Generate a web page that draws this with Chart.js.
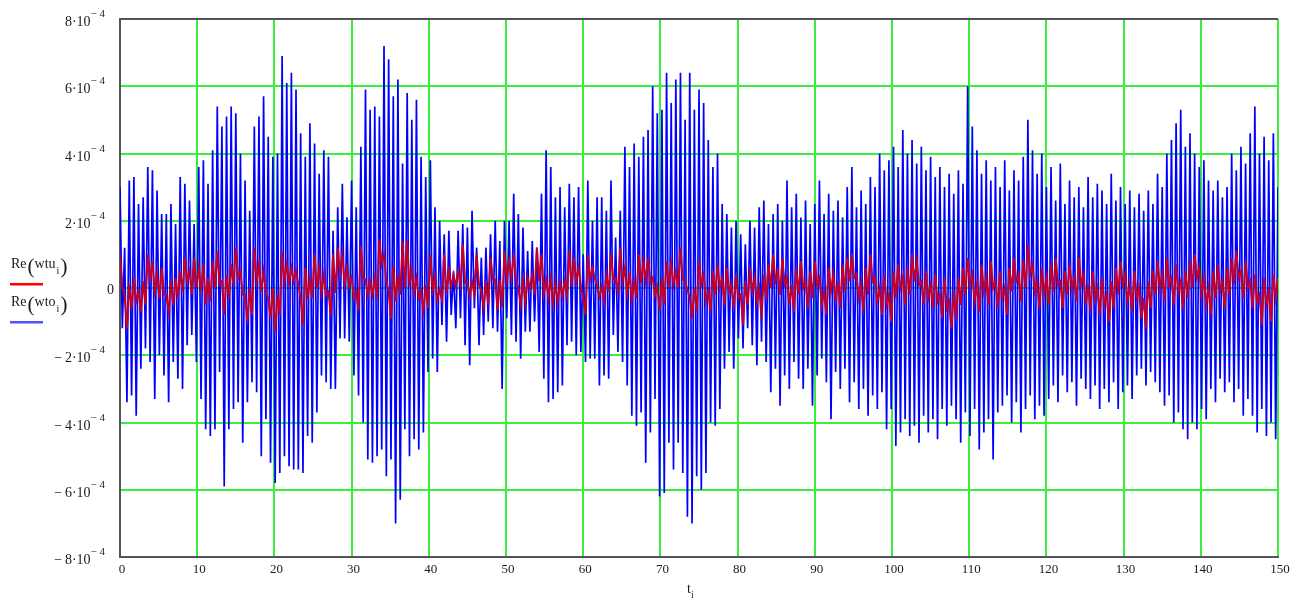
<!DOCTYPE html>
<html>
<head>
<meta charset="utf-8">
<title>Re(wtu), Re(wto)</title>
<script src="https://cdn.jsdelivr.net/npm/chart.js@4.4.1/dist/chart.umd.min.js"></script>
<style>
  html, body { margin: 0; padding: 0; background: #fff; }
  #wrap { width: 1301px; height: 598px; }
</style>
</head>
<body>
<div id="wrap"><canvas id="plot" width="1301" height="598"></canvas></div>
<script>
// sample step of t (t_i = i*dt, 0..150)
const dt = 0.3;

// Re(wto_i), in units of 1e-4 (one row = 5 top/bottom pairs)
const wtoE4 = [
  3.0,-1.2, 1.2,-3.4, 3.2,-3.2, 3.3,-3.8, 2.5,-2.4,
  2.7,-1.8, 3.6,-2.2, 3.5,-3.3, 2.9,-2.0, 2.2,-2.6,
  2.2,-3.4, 2.5,-2.2, 1.9,-2.7, 3.3,-3.0, 3.1,-1.7,
  2.6,-1.4, 1.9,-2.2, 3.6,-3.3, 3.8,-4.2, 3.1,-4.4,
  4.1,-4.2, 5.4,-2.5, 4.8,-5.9, 5.1,-4.2, 5.4,-3.6,
  5.2,-3.4, 4.0,-4.6, 3.2,-3.4, 2.3,-2.8, 4.8,-3.1,
  5.1,-5.0, 5.7,-3.9, 4.5,-5.2, 3.9,-5.8, 4.0,-5.5,
  6.9,-5.0, 6.1,-5.3, 6.4,-5.4, 5.9,-5.4, 4.6,-5.5,
  3.9,-4.4, 4.9,-4.6, 4.3,-3.7, 3.4,-2.6, 4.1,-2.8,
  3.9,-3.0, 1.7,-3.0, 2.4,-1.5, 3.1,-1.5, 2.1,-1.6,
  3.2,-2.6, 2.4,-3.2, 4.2,-4.0, 5.9,-5.1, 5.3,-5.2,
  5.4,-5.0, 5.1,-4.8, 7.2,-5.6, 6.8,-5.1, 5.7,-7.0,
  6.2,-6.3, 3.7,-4.2, 5.8,-5.0, 5.0,-4.5, 5.6,-4.8,
  3.9,-4.3, 3.3,-2.5, 3.8,-2.1, 2.4,-2.5, 2.0,-1.1,
  1.6,-1.6, 1.7,-0.8, 0.5,-1.2, 1.7,-0.9, 1.9,-1.7,
  1.8,-2.3, 2.3,-0.6, 1.2,-1.7, 0.9,-1.4, 1.2,-1.0,
  1.6,-1.2, 2.0,-1.3, 1.4,-3.0, 2.0,-0.9, 2.0,-1.4,
  2.8,-1.6, 2.2,-2.1, 1.8,-1.3, 1.1,-1.3, 1.4,-1.0,
  1.2,-1.9, 2.8,-2.7, 4.1,-3.4, 3.6,-3.3, 2.7,-3.1,
  3.0,-2.9, 2.4,-1.7, 3.1,-1.6, 2.7,-2.0, 3.0,-1.9,
  1.0,-2.2, 3.2,-2.1, 2.0,-2.1, 2.7,-2.9, 2.7,-2.6,
  2.3,-2.7, 3.2,-1.4, 1.5,-1.9, 2.3,-2.2, 4.2,-2.9,
  3.6,-3.8, 4.3,-4.1, 3.9,-3.7, 4.5,-5.2, 4.7,-4.3,
  6.0,-3.3, 5.2,-6.2, 5.3,-6.1, 6.4,-4.6, 5.5,-5.4,
  6.2,-4.6, 6.4,-5.5, 5.0,-6.8, 6.4,-7.0, 5.3,-5.6,
  5.9,-6.0, 5.5,-5.5, 4.4,-4.0, 3.6,-4.1, 4.0,-3.6,
  2.5,-2.4, 2.2,-1.9, 1.8,-2.4, 2.0,-1.5, 1.6,-1.8,
  1.3,-1.2, 2.0,-1.7, 1.8,-2.3, 2.4,-1.6, 2.6,-2.2,
  1.9,-3.1, 2.2,-2.4, 2.5,-3.5, 2.0,-2.6, 3.2,-3.0,
  2.4,-2.2, 2.8,-2.7, 2.1,-3.0, 2.6,-2.4, 1.9,-3.5,
  2.5,-2.6, 3.2,-2.1, 2.2,-2.8, 2.8,-3.9, 2.3,-2.5,
  2.6,-3.0, 2.1,-2.4, 3.0,-3.4, 3.6,-2.8, 2.4,-3.6,
  2.9,-3.0, 2.5,-3.8, 3.3,-3.2, 3.0,-3.6, 4.0,-3.1,
  3.5,-4.2, 3.8,-3.6, 4.2,-4.7, 3.6,-4.3, 4.7,-3.9,
  4.0,-4.4, 4.4,-4.1, 3.7,-4.6, 4.2,-3.8, 3.5,-4.3,
  3.9,-3.9, 3.3,-4.5, 3.6,-3.6, 3.0,-4.1, 3.4,-3.5,
  2.8,-3.9, 3.5,-4.6, 3.1,-3.7, 6.0,-4.4, 4.8,-3.6,
  4.1,-4.8, 3.4,-4.3, 3.8,-3.9, 3.2,-5.1, 3.6,-3.7,
  3.0,-3.5, 3.8,-3.2, 2.9,-4.0, 3.5,-3.4, 3.2,-4.3,
  3.9,-3.6, 5.0,-3.2, 4.1,-3.9, 3.4,-3.5, 4.0,-3.8,
  3.0,-3.3, 3.6,-2.9, 2.6,-3.4, 3.7,-2.6, 2.5,-3.1,
  3.2,-2.8, 2.7,-3.5, 3.0,-2.7, 2.4,-3.0, 3.3,-3.3,
  2.7,-2.9, 3.1,-3.6, 2.9,-3.0, 2.5,-3.4, 3.4,-2.8,
  2.6,-3.6, 3.0,-3.1, 2.5,-2.9, 2.9,-3.3, 2.4,-2.6,
  2.8,-2.4, 2.3,-2.9, 2.9,-2.5, 2.5,-2.8, 3.4,-3.1,
  3.0,-3.5, 4.0,-3.2, 4.4,-4.0, 4.9,-3.7, 5.3,-4.2,
  4.2,-4.5, 4.6,-4.0, 4.0,-4.2, 3.6,-3.6, 3.8,-3.9,
  3.2,-3.0, 2.9,-3.4, 3.2,-2.7, 2.7,-3.1, 3.0,-2.8,
  4.0,-3.4, 3.5,-3.0, 4.2,-3.8, 3.7,-3.3, 4.6,-3.8,
  5.4,-4.3, 4.0,-3.6, 4.5,-4.4, 3.8,-4.0, 4.6,-4.5,
  3.0
];

// Re(wtu_i), in units of 1e-4
const wtuE4 = [
  1.0,0.0, -0.2,-1.2, 0.1,-0.6, 0.3,-0.4, -0.1,-0.7,
  0.2,-0.5, 1.0,0.2, 0.8,-0.1, 0.4,-0.3, 0.6,-0.2,
  -0.2,-0.7, 0.2,-0.5, 0.3,-0.3, 0.5,-0.1, 0.9,0.2,
  0.5,-0.2, 0.9,0.0, 0.6,-0.1, 0.7,-0.5, 0.3,-0.4,
  0.8,0.0, 1.1,0.1, 0.2,-0.8, 0.4,-0.3, 0.7,0.1,
  1.2,0.3, 0.5,-0.2, -0.2,-1.0, 0.0,-0.8, 1.2,0.2,
  0.7,-0.1, 0.5,-0.15, -0.3,-0.9, 0.0,-1.3, -0.2,-0.8,
  1.1,0.2, 0.7,0.15, 0.6,0.2, 0.5,0.1, -0.3,-1.1,
  0.6,-0.35, 0.3,-0.3, 1.0,0.0, 0.6,-0.15, 0.4,-0.2,
  -0.1,-0.8, 1.0,-0.15, 1.2,0.45, 1.0,0.1, 0.6,0.05,
  0.3,-0.3, -0.1,-0.67, 1.24,0.3, 0.25,-0.25, 0.2,-0.2,
  0.3,-0.3, 1.45,0.7, 1.0,0.2, -0.1,-0.9, 0.65,-0.4,
  0.4,-0.2, 1.4,0.0, 1.4,0.05, 0.55,-0.15, 0.3,-0.3,
  -0.1,-0.67, 0.1,-0.6, 1.0,-0.05, 0.3,-0.35, -0.05,-0.35,
  1.0,-0.15, 0.5,0.05, 0.4,0.05, 0.5,0.1, 1.3,0.15,
  0.15,-0.25, 0.2,-0.2, 1.0,0.1, -0.1,-0.57, 0.2,-0.5,
  0.9,0.25, 0.25,-0.67, 0.25,-0.57, 1.1,0.25, 0.8,0.3,
  1.0,0.25, 0.0,-0.5, 0.2,-0.4, 0.3,0.0, 0.4,-0.2,
  1.2,0.2, 1.0,-0.15, 0.25,-0.3, 0.3,-0.45, 0.1,-0.4,
  0.15,-0.25, 0.2,-0.2, 1.1,0.05, 0.9,0.2, 0.6,0.05,
  -0.3,-0.8, 1.0,0.25, 0.6,0.3, 0.05,-0.25, 0.05,-0.4,
  0.4,-0.1, 1.0,0.25, 0.3,-0.2, 1.2,0.2, 0.6,-0.15,
  0.45,-0.35, 0.2,-0.3, 1.0,0.15, 0.8,0.2, 0.9,0.15,
  0.3,-0.2, 0.05,-0.67, 0.3,-0.5, 0.8,0.05, 0.7,0.1,
  0.5,0.0, 1.2,0.25, 0.2,-0.05, -0.3,-0.9, 0.0,-0.7,
  0.8,0.1, 0.4,-0.4, -0.1,-0.7, 0.5,-0.2, 0.7,0.0,
  0.3,-0.5, 0.6,-0.1, 0.1,-0.6, 0.4,-0.3, -0.2,-1.1,
  0.2,-0.5, 0.6,-0.1, 0.3,-0.4, 0.0,-0.9, 0.4,-0.3,
  0.7,0.0, 1.0,0.2, 0.5,-0.2, 0.9,0.1, 0.3,-0.5,
  0.1,-0.7, 0.6,-0.2, 0.8,0.0, 0.2,-0.6, 0.5,-0.3,
  0.8,0.1, 0.3,-0.5, -0.1,-0.8, 0.6,-0.1, 0.4,-0.4,
  0.2,-0.6, 0.7,-0.1, 0.9,0.2, 1.0,0.3, 0.4,-0.3,
  0.1,-0.7, 0.6,-0.2, 1.0,0.2, 0.3,-0.4, 0.0,-0.8,
  0.4,-0.5, -0.2,-1.0, 0.5,-0.3, 0.7,0.0, 0.3,-0.5,
  0.6,-0.2, 1.0,0.2, 0.8,0.1, 0.2,-0.5, 0.5,-0.3,
  0.1,-0.6, 0.4,-0.4, -0.2,-0.9, 0.3,-0.6, -0.4,-1.2,
  -0.1,-0.9, 0.3,-0.5, 0.6,-0.2, 0.9,0.1, 0.4,-0.4,
  0.1,-0.7, 0.7,-0.1, 0.3,-0.5, 0.8,0.0, 0.2,-0.6,
  0.5,-0.3, 0.0,-0.8, 0.6,-0.1, 0.9,0.2, 0.4,-0.4,
  0.8,0.0, 1.3,0.4, 0.7,-0.1, 0.2,-0.6, 0.6,-0.2,
  0.3,-0.5, 0.7,-0.1, 0.9,0.1, 0.2,-0.6, 0.5,-0.2,
  0.7,0.0, 0.3,-0.4, 0.9,0.1, 0.4,-0.5, 0.1,-0.7,
  0.5,-0.3, 0.0,-0.8, 0.3,-0.5, -0.2,-1.0, 0.2,-0.6,
  0.6,-0.2, 0.8,0.1, 0.4,-0.4, 0.1,-0.7, 0.5,-0.3,
  0.0,-0.9, -0.3,-1.2, 0.2,-0.6, 0.5,-0.2, 0.8,0.0,
  0.4,-0.4, 0.9,0.1, 0.3,-0.5, 0.7,-0.1, 0.2,-0.6,
  0.5,-0.3, 0.8,0.0, 1.0,0.3, 0.6,-0.2, 0.3,-0.5,
  0.0,-0.8, 0.5,-0.3, 0.7,-0.1, 0.2,-0.6, 0.6,-0.2,
  0.9,0.1, 1.1,0.3, 0.5,-0.3, 0.8,0.0, 0.2,-0.6,
  0.4,-0.4, -0.2,-1.1, 0.3,-0.5, -0.1,-1.0, 0.4,-0.3,
  0.3
];

// axis ticks
const xTicks = [0, 10, 20, 30, 40, 50, 60, 70, 80, 90, 100, 110, 120, 130, 140, 150];
const yTickMant = [8, 6, 4, 2, 0, -2, -4, -6, -8];   // x 10^-4

const tValues = wtoE4.map((v, i) => i * dt);

const GREEN = '#3cee3c';
const EDGE = '#555555';
const SERIF = '"Liberation Serif", "Times New Roman", serif';

// Mathcad-ish labels: tick numbers with exponents, legend on the left, t_i under the axis
const mathcadText = {
  id: 'mathcadText',
  afterDraw(chart) {
    const ctx = chart.ctx;
    const xs = chart.scales.x, ys = chart.scales.y;
    ctx.save();
    ctx.fillStyle = '#1a1a1a';
    ctx.textBaseline = 'alphabetic';

    // y labels
    yTickMant.forEach(m => {
      const py = ys.getPixelForValue(m * 1e-4);
      if (m === 0) {
        ctx.font = '14px ' + SERIF;
        ctx.textAlign = 'right';
        ctx.fillText('0', 114, py + 6);
        return;
      }
      ctx.textAlign = 'right';
      ctx.font = '11px ' + SERIF;
      ctx.fillText('\u2212 4', 105, py - 2);
      const supW = ctx.measureText('\u2212 4').width;
      ctx.font = '14px ' + SERIF;
      ctx.fillText((m < 0 ? '\u2212\u2009' : '') + Math.abs(m) + '\u00b710', 105 - supW, py + 7);
    });

    // x labels
    ctx.font = '13px ' + SERIF;
    ctx.textAlign = 'center';
    xTicks.forEach(v => {
      ctx.fillText(String(v), xs.getPixelForValue(v) + 2, 573);
    });

    // x title t_i
    ctx.textAlign = 'left';
    ctx.font = '14px ' + SERIF;
    ctx.fillText('t', 687, 593);
    ctx.font = '10px ' + SERIF;
    ctx.fillText('i', 691, 598);

    // legend entries
    function entry(name, base, color) {
      let x = 11;
      ctx.fillStyle = '#1a1a1a';
      ctx.font = '14px ' + SERIF;
      ctx.fillText('Re', x, base);
      x += ctx.measureText('Re').width + 1;
      ctx.font = '21px ' + SERIF;
      ctx.fillText('(', x, base + 5);
      x += ctx.measureText('(').width;
      ctx.font = '14px ' + SERIF;
      ctx.fillText(name, x, base);
      x += ctx.measureText(name).width;
      ctx.font = '10px ' + SERIF;
      ctx.fillText('i', x + 1, base + 6);
      x += 5;
      ctx.font = '21px ' + SERIF;
      ctx.fillText(')', x, base + 5);
      ctx.fillStyle = color;
      ctx.fillRect(10, base + 15, 33, 2.5);
    }
    entry('wtu', 268, '#ff0000');
    entry('wto', 306, '#4f4fff');

    ctx.restore();
  }
};

const edgeOrGreen = lim => c => (c.tick && Math.abs(c.tick.value) >= lim) ? EDGE : GREEN;

const config = {
  type: 'line',
  data: {
    datasets: [
      {
        label: 'Re(wtu)',
        data: wtuE4.map((v, i) => ({ x: tValues[i], y: v * 1e-4 })),
        borderColor: 'rgb(195,0,45)',
        borderWidth: 2,
        pointRadius: 0,
        order: 0
      },
      {
        label: 'Re(wto)',
        data: wtoE4.map((v, i) => ({ x: tValues[i], y: v * 1e-4 })),
        borderColor: '#0000ff',
        borderWidth: 1.7,
        pointRadius: 0,
        order: 1
      }
    ]
  },
  options: {
    responsive: false,
    animation: false,
    devicePixelRatio: 1,
    layout: { padding: { left: 120, right: 23, top: 19, bottom: 41 } },
    elements: { line: { tension: 0 } },
    plugins: { legend: { display: false }, tooltip: { enabled: false } },
    scales: {
      x: {
        type: 'linear',
        min: 0,
        max: 150,
        z: 1,
        ticks: { stepSize: 10, display: false },
        grid: { color: c => (c.tick && c.tick.value === 0) ? EDGE : GREEN, lineWidth: 2, drawTicks: false },
        border: { display: true, color: EDGE, width: 2 }
      },
      y: {
        type: 'linear',
        min: -8e-4,
        max: 8e-4,
        z: 1,
        ticks: { stepSize: 2e-4, display: false },
        grid: { color: edgeOrGreen(7.9e-4), lineWidth: 2, drawTicks: false },
        border: { display: true, color: EDGE, width: 2 }
      }
    }
  },
  plugins: [mathcadText]
};

const plot = new Chart(document.getElementById('plot'), config);
</script>
</body>
</html>
